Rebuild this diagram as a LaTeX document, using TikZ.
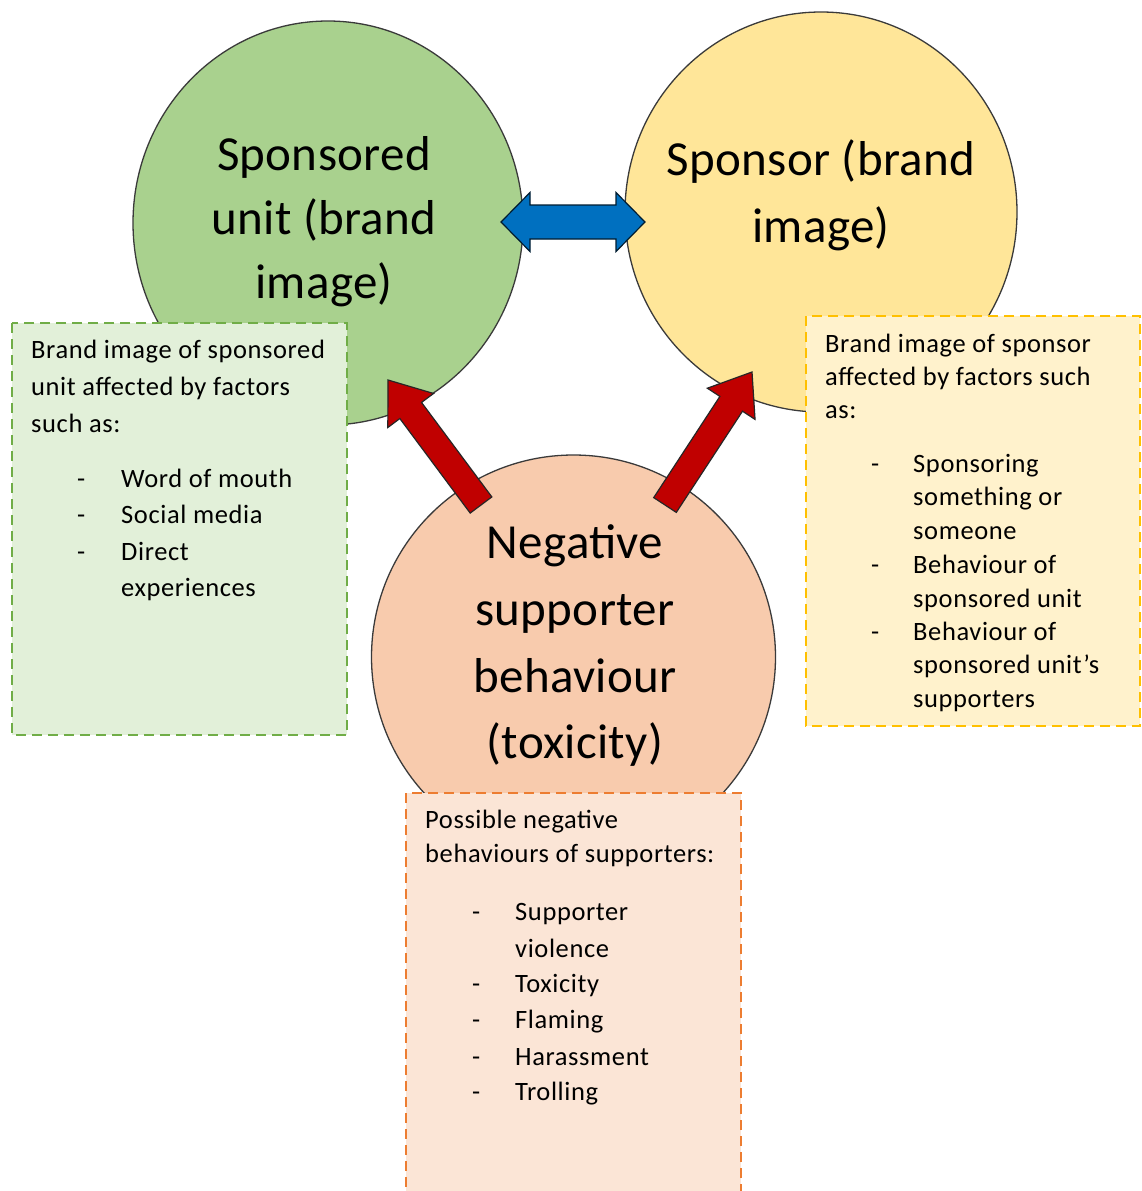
\documentclass[tikz,border=0pt]{standalone}
\usepackage{fontspec}
\setmainfont{Carlito}
\newfontfamily\boxfont[LetterSpace=2.3]{Carlito}
\newfontfamily\bigfont[LetterSpace=0.6]{Carlito}
\usetikzlibrary{calc}
\definecolor{gcirc}{HTML}{A9D18E}
\definecolor{gbox}{HTML}{E2F0D9}
\definecolor{gline}{HTML}{70AD47}
\definecolor{ycirc}{HTML}{FFE699}
\definecolor{ybox}{HTML}{FFF2CC}
\definecolor{yline}{HTML}{FFC000}
\definecolor{ocirc}{HTML}{F8CBAD}
\definecolor{obox}{HTML}{FBE5D6}
\definecolor{oline}{HTML}{ED7D31}
\definecolor{arrblue}{HTML}{0070C0}
\definecolor{arrred}{HTML}{C00000}
\definecolor{outl}{HTML}{3A3A3A}
\newcommand\blkarrow[6]{%
  \coordinate (ba-h) at ($(#2)!#5!(#1)$);
  \draw[#6] ($(#1)!#3!90:(#2)$) -- ($(ba-h)!#3!-90:(#1)$) -- ($(ba-h)!#4!-90:(#1)$) -- (#2)
    -- ($(ba-h)!#4!90:(#1)$) -- ($(ba-h)!#3!90:(#1)$) -- ($(#1)!#3!-90:(#2)$) -- cycle;}
\begin{document}
\begin{tikzpicture}[x=1pt,y=-1pt,
  circ/.style={draw=outl, line width=1.3pt},
  infobox/.style={dash pattern=on 10pt off 6pt, line width=2pt},
  big/.style={font=\bigfont\fontsize{49}{58}\selectfont, anchor=base, inner sep=0pt},
  small/.style={font=\boxfont\fontsize{26.5}{32}\selectfont, anchor=base west, inner sep=0pt},
  blockarrow/.style={draw=black!85, line width=1.2pt, line join=miter}
]
\clip (0,0) rectangle (1141,1191);
\fill[white] (0,0) rectangle (1141,1191);

% circles
\draw[circ, fill=gcirc] (328,223) ellipse [x radius=195pt, y radius=202pt];
\draw[circ, fill=ycirc] (821,212) ellipse [x radius=196pt, y radius=200pt];
\draw[circ, fill=ocirc] (573.5,657) circle [radius=202pt];

% circle texts
\foreach \t/\y [count=\i] in {Sponsored/170, unit (brand/234, image)/298}
  \node[big] (gc\i) at (324,\y) {\t};
\foreach \t/\y [count=\i] in {Sponsor (brand/175, image)/242}
  \node[big] (yc\i) at (821,\y) {\t};
\foreach \t/\y [count=\i] in {Negative/558, supporter/625, behaviour/692, (toxicity)/758}
  \node[big] (oc\i) at (575,\y) {\t};

% blue double arrow
\coordinate (bl) at (501,222);
\coordinate (br) at (645,222);
\draw[blockarrow, fill=arrblue, draw=black!75!arrblue] (bl) -- ($(bl)+(29,-29.5)$) -- ($(bl)+(29,-17)$) -- ($(br)+(-29,-17)$)
  -- ($(br)+(-29,-29.5)$) -- (br) -- ($(br)+(-29,29.5)$) -- ($(br)+(-29,17)$) -- ($(bl)+(29,17)$)
  -- ($(bl)+(29,29.5)$) -- cycle;

% red arrows
\coordinate (lt) at (481,505);
\coordinate (lp) at (388,380);
\coordinate (rt) at (665,505);
\coordinate (rp) at (752,372);
\blkarrow{lt}{lp}{13.5pt}{28.5pt}{38pt}{blockarrow, fill=arrred}
\blkarrow{rt}{rp}{13.5pt}{28.5pt}{38pt}{blockarrow, fill=arrred}

% boxes
\draw[infobox, fill=gbox, draw=gline] (12,323) rectangle (347,735);
\draw[infobox, fill=ybox, draw=yline] (806,316) rectangle (1140,726);
\draw[infobox, fill=obox, draw=oline] (406,793) rectangle (741,1210);

% green box text
\foreach \t/\y [count=\i] in {Brand image of sponsored/358, unit affected by factors/395, such as:/432}
  \node[small] (gh\i) at (31,\y) {\t};
\foreach \t/\y [count=\i] in {Word of mouth/487, Social media/523, Direct/560, experiences/596}
  \node[small] (gl\i) at (121,\y) {\t};
\foreach \y [count=\i] in {487,523,560}
  \node[small] (gd\i) at (77,\y) {-};

% yellow box text
\foreach \t/\y [count=\i] in {Brand image of sponsor/352, affected by factors such/385, as:/418}
  \node[small] (yh\i) at (825,\y) {\t};
\foreach \t/\y [count=\i] in {Sponsoring/472, something or/505, someone/539, Behaviour of/573, sponsored unit/607, Behaviour of/640, sponsored unit’s/673, supporters/707}
  \node[small] (yl\i) at (913,\y) {\t};
\foreach \y [count=\i] in {472,573,640}
  \node[small] (yd\i) at (871,\y) {-};

% orange box text
\foreach \t/\y [count=\i] in {Possible negative/828, behaviours of supporters:/862}
  \node[small] (oh\i) at (425,\y) {\t};
\foreach \t/\y [count=\i] in {Supporter/920, violence/957, Toxicity/992, Flaming/1028, Harassment/1065, Trolling/1100}
  \node[small] (ol\i) at (515,\y) {\t};
\foreach \y [count=\i] in {920,992,1028,1065,1100}
  \node[small] (od\i) at (472,\y) {-};
\end{tikzpicture}
\end{document}
